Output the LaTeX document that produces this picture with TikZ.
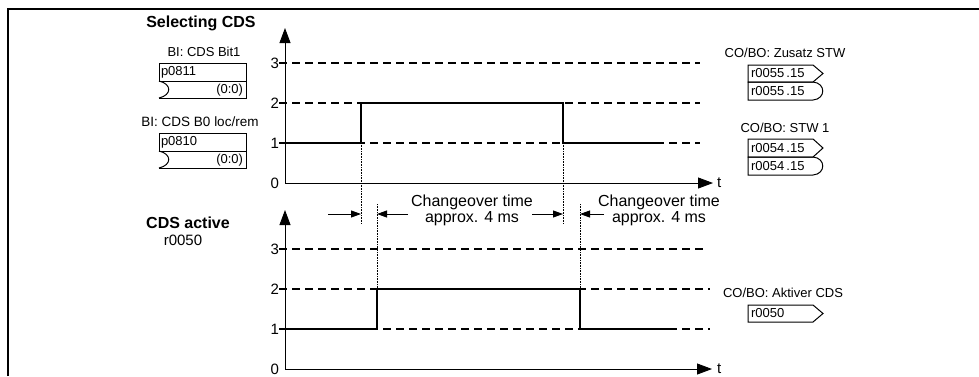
\documentclass[tikz,border=0pt]{standalone}
\usepackage{fontspec}
\setmainfont{Liberation Sans}
\usetikzlibrary{arrows.meta}
\begin{document}
\begin{tikzpicture}[x=1pt,y=-1pt,
  every node/.style={inner sep=0pt,outer sep=0pt},
  txt/.style={font=\fontsize{13}{15}\selectfont},
  lbl/.style={font=\fontsize{13.5}{15}\selectfont},
  ttl/.style={font=\fontsize{16}{18}\selectfont\bfseries},
  lvl/.style={font=\fontsize{15}{17}\selectfont},
  chg/.style={font=\fontsize{16}{16}\selectfont,align=center},
  axis/.style={line width=0.9pt,-{Triangle[length=15pt,width=11pt]}},
  gridln/.style={line width=1.4pt,dash pattern=on 8pt off 5pt},
  sig/.style={line width=2.2pt,line join=miter},
  dotln/.style={line width=0.8pt,dash pattern=on 0.8pt off 0.8pt},
  dimarr/.style={line width=0.9pt,-{Triangle[length=10pt,width=7pt]}},
  frameln/.style={line width=2.6pt,line join=miter},
  boxln/.style={line width=1pt,line join=miter}]
\useasboundingbox (0,0) rectangle (979,376);

% frame
\draw[frameln] (8,376) -- (8,9) -- (979,9);

% ---------- top chart ----------
\coordinate (O1) at (285,183);
\coordinate (Y1) at (285,28);
\coordinate (X1) at (713,183);
\foreach \yy/\lab in {63/3,103/2,143/1}{
  \draw[gridln] (279,\yy) -- (700,\yy);
}
\node[lvl,anchor=east] (ta3) at (279,63) {3};
\node[lvl,anchor=east] (ta2) at (279,103) {2};
\node[lvl,anchor=east] (ta1) at (279,143) {1};
\node[lvl,anchor=east] (ta0) at (279,183) {0};
\draw[axis] (O1) -- (Y1);
\draw[axis] (O1) -- (X1);
\node[lvl,anchor=west] (tt) at (717,183) {t};
\draw[sig] (285,143) -- (361,143) -- (361,103) -- (563,103) -- (563,143) -- (658,143);

% ---------- bottom chart ----------
\coordinate (O2) at (285,369);
\coordinate (Y2) at (285,210);
\coordinate (X2) at (712,369);
\draw[gridln] (279,249) -- (704,249);
\draw[gridln] (279,289) -- (710,289);
\draw[gridln] (279,329) -- (710,329);
\node[lvl,anchor=east] (ba3) at (279,249) {3};
\node[lvl,anchor=east] (ba2) at (279,289) {2};
\node[lvl,anchor=east] (ba1) at (279,329) {1};
\node[lvl,anchor=east] (ba0) at (279,369) {0};
\draw[axis] (O2) -- (Y2);
\draw[axis] (O2) -- (X2);
\node[lvl,anchor=west] (bt) at (717,369) {t};
\draw[sig] (285,329) -- (377,329) -- (377,289) -- (580,289) -- (580,329) -- (673,329);

% ---------- dotted guides ----------
\coordinate (d1a) at (361,143); \coordinate (d1b) at (361,224);
\coordinate (d2a) at (377,204); \coordinate (d2b) at (377,289);
\coordinate (d3a) at (563,143); \coordinate (d3b) at (563,224);
\coordinate (d4a) at (580,204); \coordinate (d4b) at (580,289);
\draw[dotln] (d1a) -- (d1b);
\draw[dotln] (d2a) -- (d2b);
\draw[dotln] (d3a) -- (d3b);
\draw[dotln] (d4a) -- (d4b);

% ---------- dimension arrows ----------
\coordinate (e1) at (328,214); \coordinate (f1) at (361,214);
\coordinate (e2) at (408,214); \coordinate (f2) at (377,214);
\coordinate (e3) at (532,214); \coordinate (f3) at (563,214);
\coordinate (e4) at (604,214); \coordinate (f4) at (580,214);
\draw[dimarr] (e1) -- (f1);
\draw[dimarr] (e2) -- (f2);
\draw[dimarr] (e3) -- (f3);
\draw[dimarr] (e4) -- (f4);
\node[chg] (chg1) at (472,210) {Changeover time\\approx. 4 ms};
\node[chg] (chg2) at (659,210) {Changeover time\\approx. 4 ms};

% ---------- left titles and inputs ----------
\node[ttl] (selcds) at (201,23) {Selecting CDS};
\node[txt] (bi1) at (204,52) {BI: CDS Bit1};
\draw[boxln] (159,63) rectangle (246,81);
\draw[boxln] (159,81) -- (246,81) -- (246,98) -- (159,98);
\draw[boxln] (159,81) .. controls (172,84) and (172,95) .. (159,98);
\node[txt,anchor=west] (p0811) at (161,72) {p0811};
\node[txt,anchor=east] (p0811v) at (243,90) {(0:0)};

\node[lbl] (bi0) at (200,122) {BI: CDS B0 loc/rem};
\draw[boxln] (159,133) rectangle (246,151);
\draw[boxln] (159,151) -- (246,151) -- (246,168) -- (159,168);
\draw[boxln] (159,151) .. controls (172,154) and (172,165) .. (159,168);
\node[txt,anchor=west] (p0810) at (161,142) {p0810};
\node[txt,anchor=east] (p0810v) at (243,160) {(0:0)};

\node[ttl] (cdsact) at (188,223) {CDS active};
\node[lvl] (r0050a) at (183,240) {r0050};

% ---------- right outputs ----------
\node[txt] (zstw) at (785,53) {CO/BO: Zusatz STW};
\draw[boxln] (748,65) -- (813,65) -- (823,73.5) -- (813,82) -- (748,82) -- cycle;
\draw[boxln] (748,82) -- (813,82) .. controls (826,83) and (826,99) .. (813,100) -- (748,100) -- cycle;
\node[txt,anchor=west] (r55a) at (751,73.5) {r0055\,.15};
\node[txt,anchor=west] (r55b) at (751,91) {r0055\,.15};

\node[txt] (stw1) at (785,128) {CO/BO: STW 1};
\draw[boxln] (748,139) -- (813,139) -- (823,148) -- (813,157) -- (748,157) -- cycle;
\draw[boxln] (748,157) -- (813,157) .. controls (826,158) and (826,174) .. (813,175) -- (748,175) -- cycle;
\node[txt,anchor=west] (r54a) at (751,148) {r0054\,.15};
\node[txt,anchor=west] (r54b) at (751,166) {r0054\,.15};

\node[txt] (aktcds) at (783,293) {CO/BO: Aktiver CDS};
\draw[boxln] (748,305) -- (813,305) -- (823,313.5) -- (813,322) -- (748,322) -- cycle;
\node[txt,anchor=west] (r50) at (751,313.5) {r0050};
\end{tikzpicture}
\end{document}
